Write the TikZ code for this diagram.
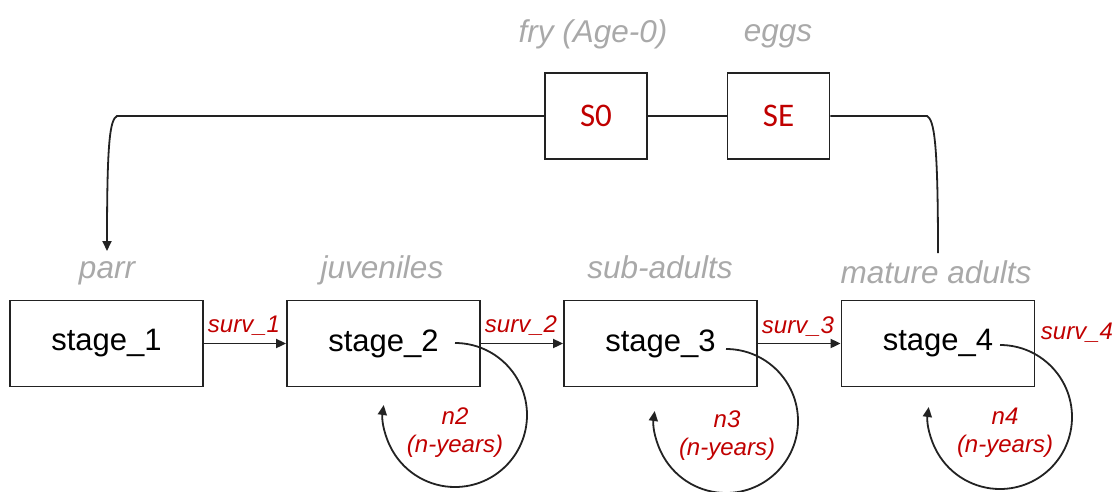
\documentclass[tikz,border=0pt]{standalone}
\usepackage{fontspec}
\setmainfont{Liberation Sans}
\newfontfamily\calib{Carlito}
\usetikzlibrary{arrows.meta}
\definecolor{redtxt}{HTML}{C00000}
\definecolor{graytxt}{HTML}{A9A9A9}
\definecolor{linec}{HTML}{222222}
\begin{document}
\begin{tikzpicture}[x=1pt,y=1pt,line width=1.8pt,
  stagebox/.style={draw=linec, line width=1.8pt, minimum width=193pt, minimum height=86pt, inner sep=0pt, font=\fontsize{31}{31}\selectfont},
  sbox/.style={draw=linec, line width=1.8pt, minimum width=102pt, minimum height=86pt, inner sep=0pt, text=redtxt, font=\calib\fontsize{33}{33}\selectfont},
  glbl/.style={text=graytxt, font=\itshape\fontsize{31.5}{32}\selectfont, anchor=base, inner sep=0pt},
  rlbl/.style={text=redtxt, font=\itshape\fontsize{24}{28}\selectfont, anchor=base, inner sep=0pt},
  nlbl/.style={text=redtxt, font=\itshape\fontsize{24}{28}\selectfont, align=center, inner sep=0pt},
  arr/.style={draw=linec, -{Triangle[length=10pt,width=9pt]}},
  conn/.style={draw=linec}]
\useasboundingbox (0,0) rectangle (1116,-491);

% top boxes
\node[sbox] (s0) at (596,-116) {S0};
\node[sbox] (se) at (778.5,-116) {SE};
\node[glbl] (lfry) at (593,-42) {fry (Age-0)};
\node[glbl] (leggs) at (778,-41) {eggs};

% stage boxes
\node[stagebox] (s1) at (106.5,-343.5) {stage\_1};
\node[stagebox] (s2) at (383.5,-343.5) {stage\_2};
\node[stagebox] (s3) at (660.5,-343.5) {stage\_3};
\node[stagebox] (s4) at (938,-343.5) {stage\_4};

% gray stage labels
\node[glbl] (lparr) at (107,-278) {parr};
\node[glbl] (ljuv) at (382,-278) {juveniles};
\node[glbl] (lsub) at (660,-278) {sub-adults};
\node[glbl] (lmat) at (936,-283) {mature adults};

% top connectors
\coordinate (c1) at (117,-116);
\coordinate (parrin) at (107,-251);
\coordinate (c2) at (927,-116);
\coordinate (matout) at (938,-253);
\draw[conn] (s0.east) -- (se.west);
\draw[arr] (s0.west) -- (c1) .. controls (110,-120) and (107,-140) .. (parrin);
\draw[conn] (se.east) -- (c2) .. controls (934,-120) and (938,-140) .. (matout);

% stage transitions
\draw[arr] (s1.east) -- (s2.west);
\draw[arr] (s2.east) -- (s3.west);
\draw[arr] (s3.east) -- (s4.west);
\node[rlbl] (r1) at (244,-332) {surv\_1};
\node[rlbl] (r2) at (521,-332) {surv\_2};
\node[rlbl] (r3) at (798,-333) {surv\_3};
\node[rlbl] (r4) at (1077,-339) {surv\_4};

% self loops
\draw[arr] ([xshift=71.5pt,yshift=0.5pt]s2.center) arc[start angle=90,end angle=-188,radius=72];
\draw[arr] ([xshift=65.5pt,yshift=-5.5pt]s3.center) arc[start angle=90,end angle=-188,radius=72];
\draw[arr] ([xshift=62pt,yshift=-1.5pt]s4.center) arc[start angle=90,end angle=-188,radius=72];

\node[nlbl] (n2) at (455,-433) {n2\\(n-years)};
\node[nlbl] (n3) at (727,-436) {n3\\(n-years)};
\node[nlbl] (n4) at (1005,-433) {n4\\(n-years)};
\end{tikzpicture}
\end{document}
